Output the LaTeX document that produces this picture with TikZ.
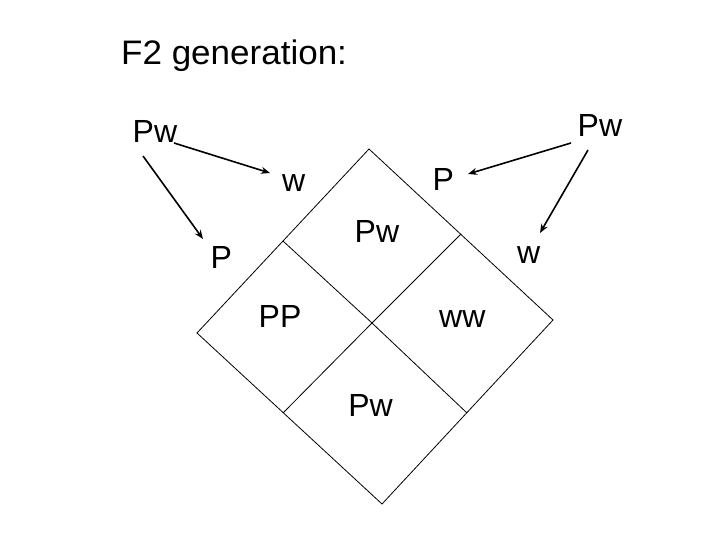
\documentclass[tikz,border=0pt]{standalone}
\usepackage{fontspec}
\setmainfont{Liberation Sans}
\usetikzlibrary{arrows.meta}
\begin{document}
\begin{tikzpicture}[x=1pt,y=-1pt,
  lbl/.style={anchor=base west,inner sep=0pt,font=\fontsize{32}{38}\selectfont},
  grid/.style={draw=black,line width=0.8pt},
  arr/.style={draw=black,line width=1.6pt,-{Stealth[length=9pt,width=7pt]}}]
\useasboundingbox (0,0) rectangle (720,540);
% title
\node[lbl,font=\fontsize{34}{40}\selectfont] (title) at (121,64.3) {\scalebox{1.03}[1]{F2 generation:}};
% parents
\node[lbl] (pwL) at (132.5,142.7) {Pw};
\node[lbl] (pwR) at (577.5,136.7) {Pw};
% gametes
\node[lbl] (wT) at (282,191.7) {w};
\node[lbl] (pT) at (432.5,190.7) {P};
\node[lbl] (pL) at (210.5,268.3) {P};
\node[lbl] (wR) at (517,263.3) {w};
% cells
\node[lbl] (pwC) at (354.5,242.7) {Pw};
\node[lbl] (pp) at (258.5,327.3) {PP};
\node[lbl] (ww) at (439,327.3) {ww};
\node[lbl] (pwB) at (348.2,416.7) {Pw};
% diamond corners
\coordinate (top) at (369,149);
\coordinate (right) at (553,320);
\coordinate (bottom) at (382,504);
\coordinate (left) at (197,333);
\coordinate (ctr) at (372,323);
\coordinate (mTL) at (283,241);
\coordinate (mTR) at (461,234);
\coordinate (mBR) at (467,413);
\coordinate (mBL) at (283,413);
\draw[grid] (top) -- (right) -- (bottom) -- (left) -- cycle;
\draw[grid] (mTL) -- (ctr) -- (mBR);
\draw[grid] (mTR) -- (ctr) -- (mBL);
% arrows
\coordinate (a1s) at (174,143); \coordinate (a1e) at (270,173);
\coordinate (a2s) at (143,156); \coordinate (a2e) at (203,239);
\coordinate (a3s) at (571,143); \coordinate (a3e) at (468,174);
\coordinate (a4s) at (588,150); \coordinate (a4e) at (540,233);
\draw[arr] (a1s) -- (a1e);
\draw[arr] (a2s) -- (a2e);
\draw[arr] (a3s) -- (a3e);
\draw[arr] (a4s) -- (a4e);
\end{tikzpicture}
\end{document}
